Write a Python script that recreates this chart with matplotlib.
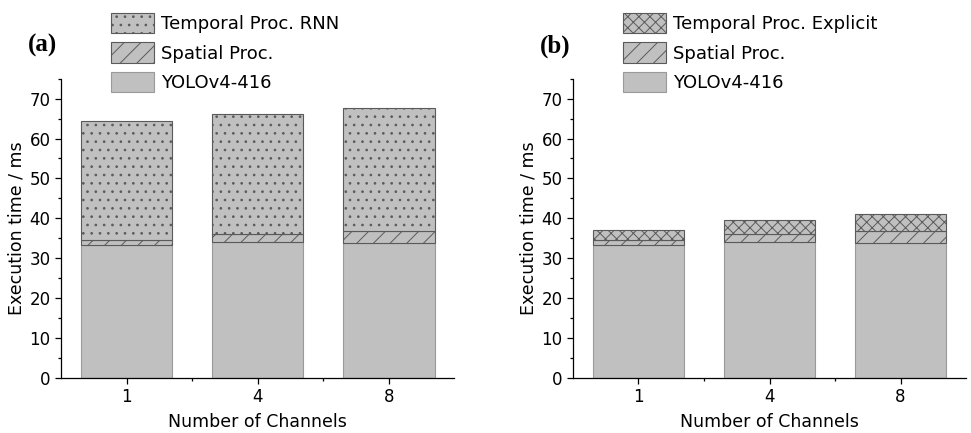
import matplotlib
matplotlib.use("Agg")
import matplotlib.pyplot as plt
from matplotlib.ticker import MultipleLocator, FixedLocator

# execution time per stage (ms) for 1, 4, 8 channels
channels = ["1", "4", "8"]
yolo = [33.2, 34.0, 33.9]
spatial = [1.4, 2.1, 3.0]
temporal_rnn = [29.9, 30.0, 30.7]
temporal_explicit = [2.4, 3.4, 4.2]

plt.rcParams["font.family"] = "DejaVu Sans"
plt.rcParams["hatch.linewidth"] = 0.7

BAR = "#c0c0c0"
EDGE = "#5a5a5a"


def draw_panel(ax, temporal, temporal_label, temporal_hatch, tag):
    x = range(len(channels))
    spat_bottom = yolo
    temp_bottom = [a + b for a, b in zip(yolo, spatial)]

    b1 = ax.bar(x, yolo, 0.7, color=BAR, edgecolor="#9a9a9a", linewidth=0.8,
                label="YOLOv4-416")
    b2 = ax.bar(x, spatial, 0.7, bottom=spat_bottom, color=BAR, edgecolor=EDGE,
                linewidth=0.8, hatch="//", label="Spatial Proc.")
    b3 = ax.bar(x, temporal, 0.7, bottom=temp_bottom, color=BAR, edgecolor=EDGE,
                linewidth=0.8, hatch=temporal_hatch, label=temporal_label)

    ax.set_xlim(-0.5, 2.5)
    ax.set_ylim(0, 75)
    ax.set_xticks(list(x))
    ax.set_xticklabels(channels)
    ax.xaxis.set_minor_locator(FixedLocator([0.5, 1.5]))
    ax.yaxis.set_major_locator(MultipleLocator(10))
    ax.yaxis.set_minor_locator(MultipleLocator(5))
    ax.tick_params(which="major", length=4, width=0.9, labelsize=12)
    ax.tick_params(which="minor", length=2.5, width=0.9)
    for s in ("top", "right"):
        ax.spines[s].set_visible(False)
    for s in ("left", "bottom"):
        ax.spines[s].set_linewidth(0.9)

    ax.set_xlabel("Number of Channels", fontsize=12.5, labelpad=5)
    ax.set_ylabel("Execution time / ms", fontsize=12.5, labelpad=3)

    ax.legend([b3, b2, b1], [temporal_label, "Spatial Proc.", "YOLOv4-416"],
              loc="upper left", bbox_to_anchor=(0.127, 1.22), frameon=False,
              fontsize=13, handlelength=2.4, handleheight=1.35,
              labelspacing=0.5, handletextpad=0.4, borderpad=0,
              borderaxespad=0)
    ax.text(-0.085, 1.11, tag, transform=ax.transAxes, fontsize=18,
            fontweight="bold", family="Liberation Serif", ha="left", va="center")


fig = plt.figure(figsize=(9.71, 4.33), dpi=100)
ax_a = fig.add_axes([0.0628, 0.128, 0.405, 0.69])
ax_b = fig.add_axes([0.590, 0.128, 0.405, 0.69])

draw_panel(ax_a, temporal_rnn, "Temporal Proc. RNN", "..", "(a)")
draw_panel(ax_b, temporal_explicit, "Temporal Proc. Explicit", "xxx", "(b)")

fig.savefig("out.png", dpi=100)
